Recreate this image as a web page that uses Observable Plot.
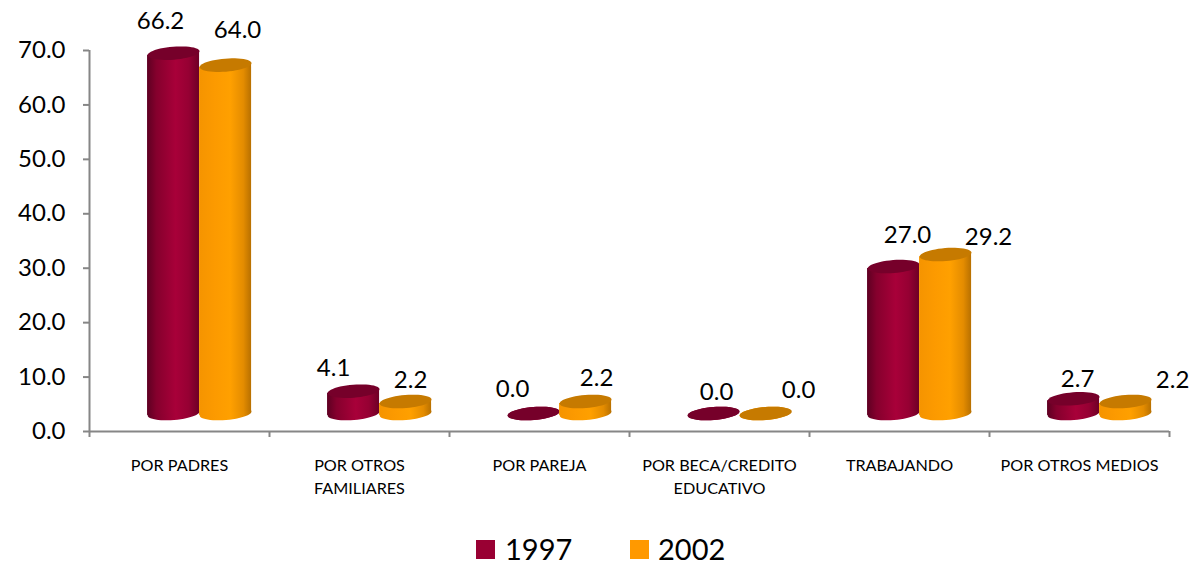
<!DOCTYPE html>
<html>
<head>
<meta charset="utf-8">
<script src="https://cdn.jsdelivr.net/npm/d3@7"></script>
<script src="https://cdn.jsdelivr.net/npm/@observablehq/plot@0.6"></script>
<style>
html,body{margin:0;padding:0;background:#fff;width:1195px;height:563px;overflow:hidden;font-family:Lato,sans-serif}
#chart svg{display:block}
#legend{position:relative;height:38px;color:#000;font-size:29px;line-height:26px}
#legend span{position:absolute;top:11px;white-space:nowrap}
#legend i{position:absolute;top:15px;width:19px;height:19px;display:block}
</style>
</head>
<body>
<div id="chart"></div>
<div id="legend"></div>
<script>
const categories = ["POR PADRES", "POR OTROS\nFAMILIARES", "POR PAREJA", "POR BECA/CREDITO\nEDUCATIVO", "TRABAJANDO", "POR OTROS MEDIOS"];
const values1997 = [66.2, 4.1, 0.0, 0.0, 27.0, 2.7];
const values2002 = [64.0, 2.2, 2.2, 0.0, 29.2, 2.2];
const yTicks = [0, 10, 20, 30, 40, 50, 60, 70];
const seriesNames = ["1997", "2002"];

// layout
const groupOffset = [0.467, 0.756];
const halfWidth = 0.1445;
const tilt = 0.38;
const lift = -18;
const labelDx = [[-13, -20, -21, 3, 14, 4], [12, 5, 11, 33, 43, 47]];
const labelDy = [[-50, -41, -42, -39, -49, -37], [-53, -39, -41, -41, -35, -39]];
const grey = "#868686";
const tops = ["#76002a", "#c67a00"];
const solid = ["#990033", "#ff9900"];
const series = [values1997, values2002];

const ellipse = {
  draw(ctx, size) {
    const a = Math.sqrt(size / Math.PI), b = a * 0.25, t = -4.6 * Math.PI / 180;
    for (let k = 0; k <= 48; ++k) {
      const u = k / 48 * 2 * Math.PI;
      const px = a * Math.cos(u), py = b * Math.sin(u);
      const X = px * Math.cos(t) - py * Math.sin(t), Y = px * Math.sin(t) + py * Math.cos(t);
      k ? ctx.lineTo(X, Y) : ctx.moveTo(X, Y);
    }
    ctx.closePath();
  }
};

const gradients = () => {
  const ns = "http://www.w3.org/2000/svg";
  const defs = document.createElementNS(ns, "defs");
  const stops = [
    [[0, "#5e0022"], [0.18, "#85002d"], [0.55, "#a80039"], [0.8, "#960033"], [1, "#6e0026"]],
    [[0, "#f59400"], [0.3, "#fc9a00"], [0.6, "#ffa000"], [0.85, "#e48c00"], [1, "#b87000"]]
  ];
  stops.forEach((list, i) => {
    const g = document.createElementNS(ns, "linearGradient");
    g.setAttribute("id", "cyl" + i);
    list.forEach(([o, c]) => {
      const s = document.createElementNS(ns, "stop");
      s.setAttribute("offset", o);
      s.setAttribute("stop-color", c);
      g.appendChild(s);
    });
    defs.appendChild(g);
  });
  return defs;
};

const cylinderMarks = (vals, s) => {
  const cx = (d, i) => i + groupOffset[s];
  const body = vals.flatMap((v, i) => v > 0 ? [
    {i, x: i + groupOffset[s] - halfWidth, y1: -tilt, y2: v - tilt},
    {i, x: i + groupOffset[s] + halfWidth, y1: tilt, y2: v + tilt}
  ] : []);
  const zero = vals.map(() => 0);
  return [
    Plot.dot(zero, {x: cx, y: d => d, r: 26, symbol: ellipse, fill: `url(#cyl${s})`, dy: lift}),
    Plot.areaY(body, {x: "x", y1: "y1", y2: "y2", z: "i", fill: `url(#cyl${s})`, dy: lift, curve: "linear"}),
    Plot.dot(vals, {x: cx, y: d => d, r: 26, symbol: ellipse, fill: tops[s], dy: lift})
  ];
};

const labelMarks = (vals, s) => vals.map((v, i) =>
  Plot.text([v], {
    x: () => i + groupOffset[s],
    y: d => d,
    text: d => d.toFixed(1),
    dx: labelDx[s][i],
    dy: labelDy[s][i],
    fontSize: 24,
    fill: "#000"
  })
);

const chart = Plot.plot({
  width: 1195,
  height: 525,
  marginTop: 50,
  marginBottom: 94,
  marginLeft: 89,
  marginRight: 26,
  style: {fontFamily: "Lato, sans-serif", background: "#fff", color: "#000"},
  x: {domain: [0, 6], axis: null},
  y: {domain: [0, 70], axis: null},
  marks: [
    gradients,
    Plot.axisY({ticks: yTicks, tickFormat: d => d.toFixed(1), tickSize: 6, tickPadding: 18, fontSize: 24, stroke: grey, strokeWidth: 2, fill: "#000", label: null}),
    Plot.axisX({ticks: d3.range(7), tickFormat: () => "", tickSize: 6, stroke: grey, strokeWidth: 2, label: null}),
    Plot.ruleX([0], {stroke: grey, strokeWidth: 2}),
    Plot.ruleY([0], {stroke: grey, strokeWidth: 2}),
    ...series.flatMap(cylinderMarks),
    ...series.flatMap(labelMarks),
    Plot.text(categories, {
      x: (d, i) => i + 0.5,
      y: () => 0,
      text: d => d,
      lineAnchor: "top",
      dy: 22,
      fontSize: 16.2,
      lineHeight: 1.48,
      fill: "#000"
    })
  ]
});
document.getElementById("chart").appendChild(chart);

const legend = document.getElementById("legend");
const swatchX = [476, 630], textX = [505, 658];
seriesNames.forEach((name, i) => {
  const sw = document.createElement("i");
  sw.style.left = swatchX[i] + "px";
  sw.style.background = solid[i];
  legend.appendChild(sw);
  const t = document.createElement("span");
  t.style.left = textX[i] + "px";
  t.textContent = name;
  legend.appendChild(t);
});
</script>
</body>
</html>
